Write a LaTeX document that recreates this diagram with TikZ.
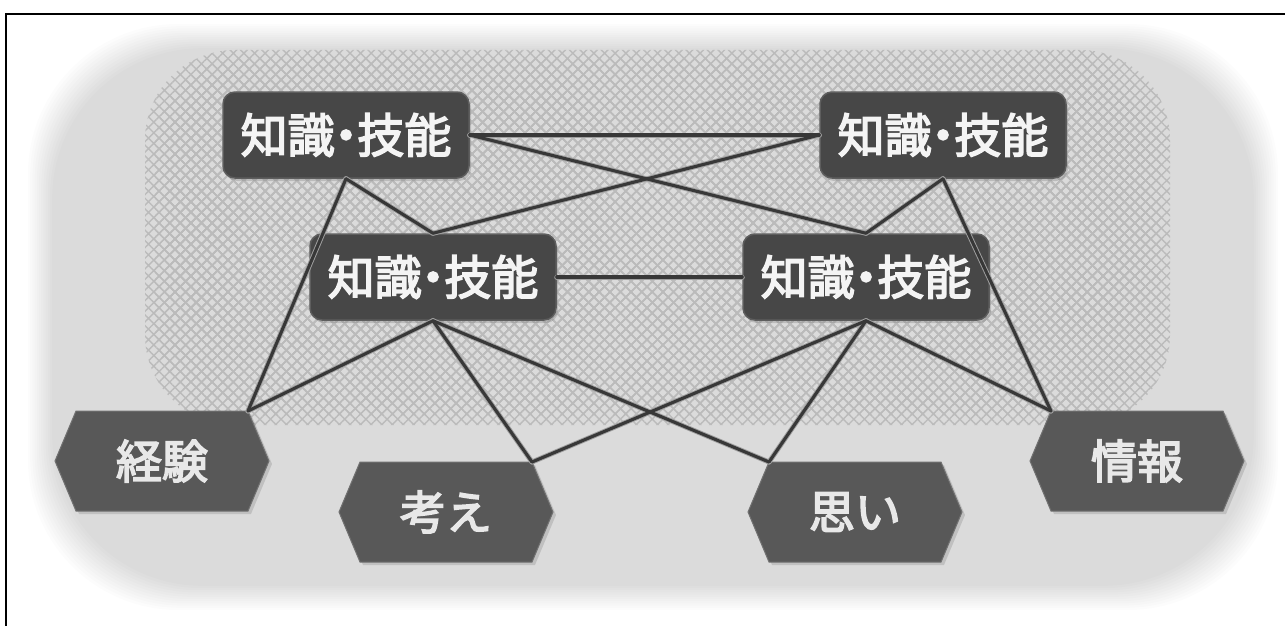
\documentclass[tikz,border=0pt]{standalone}
\usepackage{fontspec}
\newfontfamily\boxfont{Noto Sans CJK JP}
\newfontfamily\hexfont{Noto Sans CJK JP}
\usetikzlibrary{patterns.meta,calc,shadows}
\definecolor{boxg}{HTML}{474747}
\definecolor{boxedge}{HTML}{5E5E5E}
\definecolor{hexg}{HTML}{585858}
\definecolor{linkg}{HTML}{383838}
\definecolor{halog}{HTML}{A0A0A0}
\definecolor{hatchg}{HTML}{BBBBBB}
\definecolor{boxtext}{HTML}{F4F4F4}
\definecolor{hextext}{HTML}{E8E8E8}
\newcommand{\heavy}[1]{\special{pdf:literal direct 2 Tr 1.6 w}#1\special{pdf:literal direct 0 Tr 1 w}}
\tikzset{
  kbox/.style={rectangle, rounded corners=12pt, fill=boxg, draw=boxedge, line width=1.5pt,
    minimum width=246pt, minimum height=86pt, inner sep=0pt, text=boxtext,
    font=\boxfont\fontsize{47}{50}\selectfont,
    drop shadow={shadow xshift=2pt, shadow yshift=-3pt, opacity=0.35}},
  hexlabel/.style={inner sep=0pt, minimum width=214pt, minimum height=100pt, text=hextext,
    font=\hexfont\fontsize{46}{50}\selectfont},
  hexfill/.style={fill=hexg, draw=hexg!85!white, line width=1pt},
  linkhalo/.style={draw=halog, line width=5pt, line cap=round},
  linkcore/.style={draw=linkg, line width=3.1pt, line cap=round},
  hatchA/.style={pattern={Hatch[angle=45,distance=7.5pt,line width=1.4pt]}, pattern color=hatchg},
}
\newcommand{\kg}{\heavy{知識\kern-.26em・\kern-.26em技能}}
\newcommand{\hexnode}[3]{%
  \begin{scope}[shift={(#2)}]
    \fill[black, opacity=0.12] (-104,3) -- (-83,-47) -- (89,-47) -- (110,3) -- (89,53) -- (-83,53) -- cycle;
    \path[hexfill] (-107,0) -- (-86,-50) -- (86,-50) -- (107,0) -- (86,50) -- (-86,50) -- cycle;
    \node[hexlabel] (#1) at (0,0) {\heavy{#3}};
    \coordinate (#1-nw) at (-86,-50);
    \coordinate (#1-ne) at (86,-50);
  \end{scope}}
\begin{document}
\begin{tikzpicture}[x=1pt,y=-1pt]
\useasboundingbox (0,0) rectangle (1285,626);
\fill[white] (0,0) rectangle (1285,626);
% soft big rounded background
\foreach \i in {0,...,11} {
  \fill[black, opacity=0.011, rounded corners=150pt]
    (28+\i*2.2, 24+\i*2.2) rectangle (1278-\i*2.2, 610-\i*2.2);
}
% crosshatched zones (soft edges by stacking)
\foreach \i in {0,1,2} {
  \fill[hatchA, fill opacity=0.14, rounded corners=90pt]
    (145+\i*10,50+\i*8) rectangle (1170-\i*10,425-\i*10);
}
\foreach \i in {0,1,2} {
  \fill[hatchA, fill opacity=0.22, rounded corners=70pt] (168+\i*7,78+\i*7) rectangle (615-\i*7,355-\i*7);
  \fill[hatchA, fill opacity=0.22, rounded corners=70pt] (693+\i*7,78+\i*7) rectangle (1147-\i*7,355-\i*7);
}
% frame
\draw[line width=2.6pt] (6,626) -- (6,14) -- (1285,14);
% boxes
\node[kbox] (tl) at (346,135) {\kg};
\node[kbox] (tr) at (943,135) {\kg};
\node[kbox] (ml) at (433,277) {\kg};
\node[kbox] (mr) at (866,277) {\kg};
% hexagons
\hexnode{kei}{162,461}{経験}
\hexnode{kan}{446,512}{考え}
\hexnode{omo}{855,512}{思い}
\hexnode{jou}{1137,461}{情報}
% connectors
\foreach \s in {linkhalo, linkcore} {
  \foreach \a/\b in {tl.east/tr.west, tl.east/mr.north, ml.north/tr.west, tl.south/ml.north,
                     tl.south/kei-ne, tr.south/mr.north, tr.south/jou-nw, ml.east/mr.west,
                     ml.south/kei-ne, ml.south/kan-ne, ml.south/omo-nw,
                     mr.south/kan-ne, mr.south/omo-nw, mr.south/jou-nw} {
    \draw[\s] (\a) -- (\b);
  }
}
\end{tikzpicture}
\end{document}
